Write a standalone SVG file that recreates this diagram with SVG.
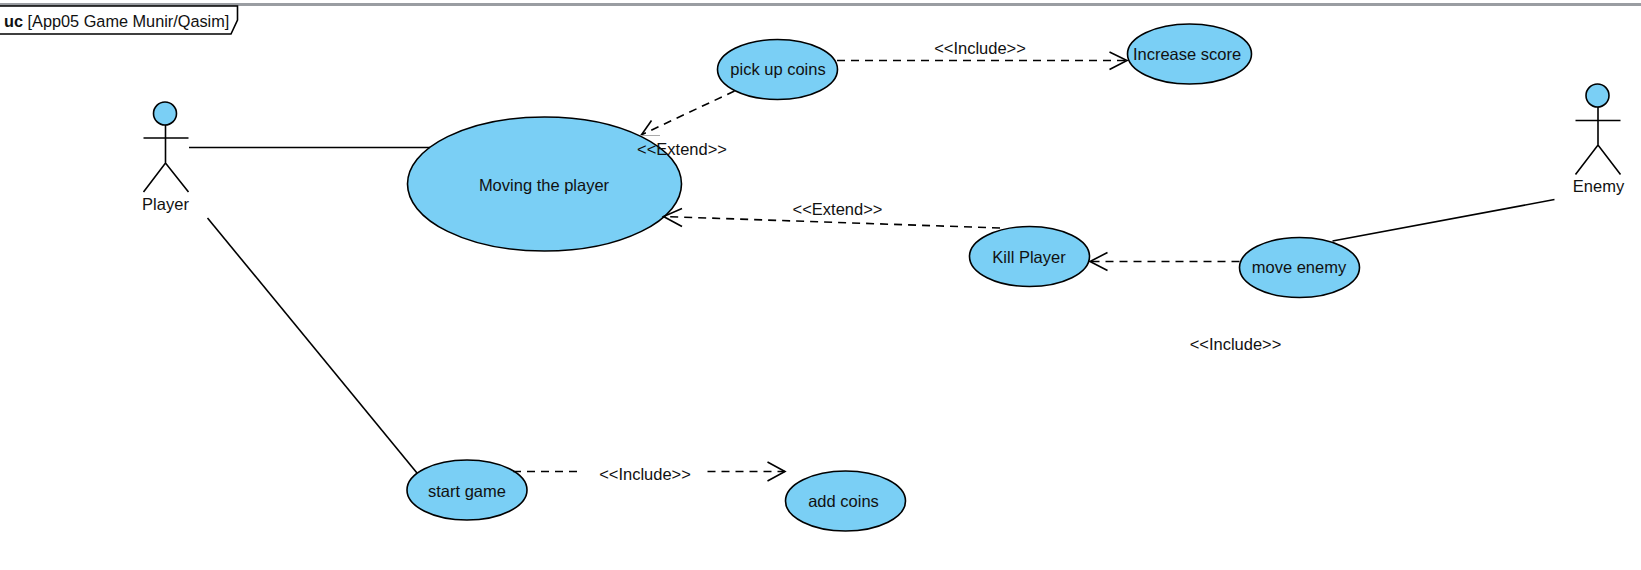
<svg xmlns="http://www.w3.org/2000/svg" width="1641" height="570" viewBox="0 0 1641 570">
<style>
text{font-family:"Liberation Sans",Arial,sans-serif;font-size:16.500px;fill:#111;text-anchor:middle}
.uc{fill:#7acff5;stroke:#000;stroke-width:1.6}
.ln{fill:none;stroke:#000;stroke-width:1.6}
.ds{fill:none;stroke:#000;stroke-width:1.6;stroke-dasharray:8 6}
.hd{fill:none;stroke:#000;stroke-width:1.6}
</style>
<rect width="1641" height="570" fill="#fff"/>
<rect x="0" y="3" width="1641" height="3" fill="#9a9da2"/>
<g id="frame">
<path class="ln" d="M-2 6H237.500V20L231 34H-2Z" fill="#fff"/>
<text x="4" y="27" style="text-anchor:start;font-size:16.300px"><tspan font-weight="bold">uc</tspan> [App05 Game Munir/Qasim]</text>
</g>
<g id="node-moving"><ellipse class="uc" cx="544.500" cy="184" rx="137" ry="67"/><text x="544" y="191">Moving the player</text></g>
<g id="node-pick"><ellipse class="uc" cx="777.500" cy="69.500" rx="60" ry="30"/><text x="778" y="75">pick up coins</text></g>
<g id="node-increase"><ellipse class="uc" cx="1189.500" cy="54" rx="62" ry="30"/><text x="1187" y="60">Increase score</text></g>
<g id="node-kill"><ellipse class="uc" cx="1029.500" cy="256.500" rx="60" ry="30"/><text x="1029" y="263">Kill Player</text></g>
<g id="node-move"><ellipse class="uc" cx="1299.500" cy="267.500" rx="60" ry="30"/><text x="1299" y="273">move enemy</text></g>
<g id="node-start"><ellipse class="uc" cx="467" cy="490" rx="60" ry="30"/><text x="467" y="497">start game</text></g>
<g id="node-add"><ellipse class="uc" cx="845.500" cy="501" rx="60" ry="30"/><text x="843.500" y="507">add coins</text></g>
<g id="actor-player">
<circle class="uc" cx="165" cy="113.500" r="11.500"/>
<path class="ln" d="M165.500 125V163M143.500 138H188.500M143.500 192L165.500 163L188.500 192"/>
<text x="165.500" y="210">Player</text>
</g>
<g id="actor-enemy">
<circle class="uc" cx="1597.500" cy="95.500" r="11.500"/>
<path class="ln" d="M1598 107V145M1575.500 120.500H1620.500M1575.500 174.500L1598 145L1620.500 174.500"/>
<text x="1598.500" y="191.500">Enemy</text>
</g>
<g id="connectors">
<path class="ln" d="M189 147.500H430"/>
<path class="ln" d="M207.500 218L417 473"/>
<path class="ln" d="M1554.500 199.500L1332.500 241"/>
<path class="ds" d="M734.500 91L641 135"/>
<path class="hd" d="M651.500 120.500L641 135.500"/>
<path d="M641 135.500H660" fill="none" stroke="#aaa" stroke-width="1"/>
<path class="ds" d="M837 60.500H1127"/>
<path class="hd" d="M1109.500 52L1127 60.500L1109.500 69.500"/>
<path class="ds" d="M1000 228L663.500 216.500"/>
<path class="hd" d="M682 208.500L663.500 216.500L682 226.500"/>
<path class="ds" d="M1239.500 261.500H1090"/>
<path class="hd" d="M1107.500 252.500L1090 261.500L1107.500 270.500"/>
<path class="ds" d="M513 471.500H583M707.500 471.500H785"/>
<path class="hd" d="M767.500 462L785 471.500L767.500 481"/>
</g>
<g id="labels">
<text x="980" y="54">&lt;&lt;Include&gt;&gt;</text>
<text x="682" y="155">&lt;&lt;Extend&gt;&gt;</text>
<text x="837.500" y="215">&lt;&lt;Extend&gt;&gt;</text>
<text x="1235.500" y="350">&lt;&lt;Include&gt;&gt;</text>
<text x="645" y="480">&lt;&lt;Include&gt;&gt;</text>
</g>
</svg>
